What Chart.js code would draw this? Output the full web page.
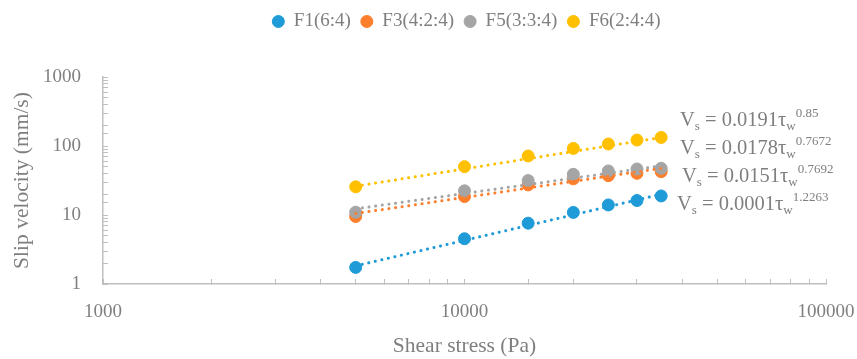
<!DOCTYPE html>
<html>
<head>
<meta charset="utf-8">
<script src="https://cdn.jsdelivr.net/npm/chart.js@4/dist/chart.umd.min.js"></script>
<style>
  html, body { margin: 0; padding: 0; background: #fff; }
  #wrap { width: 857px; height: 359px; }
</style>
</head>
<body>
<div id="wrap"><canvas id="slipChart"></canvas></div>
<script>
// shear stress (Pa)
const stress = [5000, 10000, 15000, 20000, 25000, 30000, 35000];

// slip velocity (mm/s)
const f1 = [1.74, 4.53, 7.61, 10.9, 14.0, 16.2, 18.9];
const f3 = [9.51, 18.5, 27.3, 33.4, 37.2, 40.2, 42.5];
const f5 = [11.0, 22.4, 31.5, 38.9, 43.5, 46.5, 47.5];
const f6 = [25.6, 50.2, 71.7, 92.3, 106.9, 122, 133];

// power trendlines, start and end values
const trendX = [5000, 35000];
const f1Trend = [1.83, 20.0];
const f3Trend = [10.5, 47.5];
const f5Trend = [12.3, 51.6];
const f6Trend = [26.1, 133];

const seriesNames = ['F1(6:4)', 'F3(4:2:4)', 'F5(3:3:4)', 'F6(2:4:4)'];
const colors = ['#1f9bd8', '#fd7f2c', '#a5a5a5', '#ffc000'];

// trendline equations, top to bottom
const eqCoefs = ['0.0191', '0.0178', '0.0151', '0.0001'];
const eqExps = ['0.85', '0.7672', '0.7692', '1.2263'];

const textColor = '#7f7f7f';
const axisColor = '#bfbfbf';
const fontFamily = '"Liberation Serif", "Times New Roman", serif';

const pts = (xs, ys) => xs.map((x, i) => ({ x: x, y: ys[i] }));

const pointSets = [f1, f3, f5, f6].map((d, i) => ({
    label: seriesNames[i],
    data: pts(stress, d),
    backgroundColor: colors[i],
    borderColor: colors[i],
    borderWidth: 1,
    pointRadius: 6,
    pointHoverRadius: 6,
    showLine: false,
    order: 8 - i,
}));

const trendSets = [f1Trend, f3Trend, f5Trend, f6Trend].map((d, i) => ({
    label: seriesNames[i] + ' trend',
    data: pts(trendX, d),
    borderColor: colors[i],
    backgroundColor: colors[i],
    borderWidth: 3,
    borderDash: [0.1, 6.6],
    borderCapStyle: 'round',
    pointRadius: 0,
    showLine: true,
    order: 4 - i,
}));

const isDecade = v => {
    const l = Math.log10(v);
    return Math.abs(l - Math.round(l)) < 1e-9;
};

// shifts the legend so it sits over the plot, as in the original
const legendShift = {
    id: 'legendShift',
    afterLayout(chart) {
        const lg = chart.legend;
        lg.left += 40; lg.right += 40;
        lg.top -= 36; lg.bottom -= 36;
    }
};

// equation labels next to the trendlines
const equations = {
    id: 'equations',
    afterDraw(chart) {
        const ctx = chart.ctx;
        const xs = [680, 680, 682, 677];
        const bases = [126, 154, 182, 210];
        const big = '20.5px ' + fontFamily;
        const small = '13px ' + fontFamily;
        ctx.save();
        ctx.fillStyle = textColor;
        ctx.textBaseline = 'alphabetic';
        ctx.textAlign = 'left';
        eqCoefs.forEach((c, i) => {
            let x = xs[i];
            const b = bases[i];
            const run = (txt, font, dy) => {
                ctx.font = font;
                ctx.fillText(txt, x, b + dy);
                x += ctx.measureText(txt).width;
            };
            run('V', big, 0);
            run('s', small, 4);
            run(' = ' + c + 'τ', big, 0);
            run('w', small, 4);
            run(eqExps[i], small, -9);
        });
        ctx.restore();
    }
};

new Chart(document.getElementById('slipChart'), {
    type: 'scatter',
    data: { datasets: [...pointSets, ...trendSets] },
    options: {
        responsive: true,
        maintainAspectRatio: false,
        animation: false,
        layout: { padding: { top: 38, right: 4, left: 0, bottom: 0 } },
        plugins: {
            legend: {
                position: 'top',
                labels: {
                    usePointStyle: true,
                    pointStyle: 'circle',
                    boxWidth: 12,
                    boxHeight: 8.5,
                    padding: 10,
                    color: textColor,
                    font: { family: fontFamily, size: 19 },
                    filter: item => item.datasetIndex < 4,
                    sort: (a, b) => a.datasetIndex - b.datasetIndex,
                }
            },
            tooltip: { enabled: false }
        },
        scales: {
            x: {
                type: 'logarithmic',
                min: 1000,
                max: 100000,
                afterFit: s => { s.height = 75; s.paddingRight = 31; s.paddingLeft = 0; },
                border: { display: true, color: axisColor, width: 1.5 },
                grid: {
                    drawOnChartArea: false,
                    drawTicks: true,
                    tickLength: -5,
                    tickColor: axisColor,
                    tickWidth: 1,
                },
                ticks: {
                    autoSkip: false,
                    maxRotation: 0,
                    padding: 22,
                    color: textColor,
                    font: { family: fontFamily, size: 19 },
                    callback: v => isDecade(v) ? String(v) : '',
                },
                title: {
                    display: true,
                    text: 'Shear stress (Pa)',
                    color: textColor,
                    font: { family: fontFamily, size: 21.5 },
                    padding: { top: 0, bottom: 0 },
                }
            },
            y: {
                type: 'logarithmic',
                min: 1,
                max: 1000,
                afterFit: s => { s.width = 103; },
                border: { display: true, color: axisColor, width: 1.5 },
                grid: {
                    drawOnChartArea: false,
                    drawTicks: true,
                    tickLength: -5,
                    tickColor: axisColor,
                    tickWidth: 1,
                },
                ticks: {
                    autoSkip: false,
                    padding: 27,
                    color: textColor,
                    font: { family: fontFamily, size: 19 },
                    callback: v => isDecade(v) ? String(v) : '',
                },
                title: {
                    display: true,
                    text: 'Slip velocity (mm/s)',
                    color: textColor,
                    font: { family: fontFamily, size: 21.5 },
                    padding: { top: 9, bottom: 0 },
                }
            }
        }
    },
    plugins: [legendShift, equations]
});
</script>
</body>
</html>
